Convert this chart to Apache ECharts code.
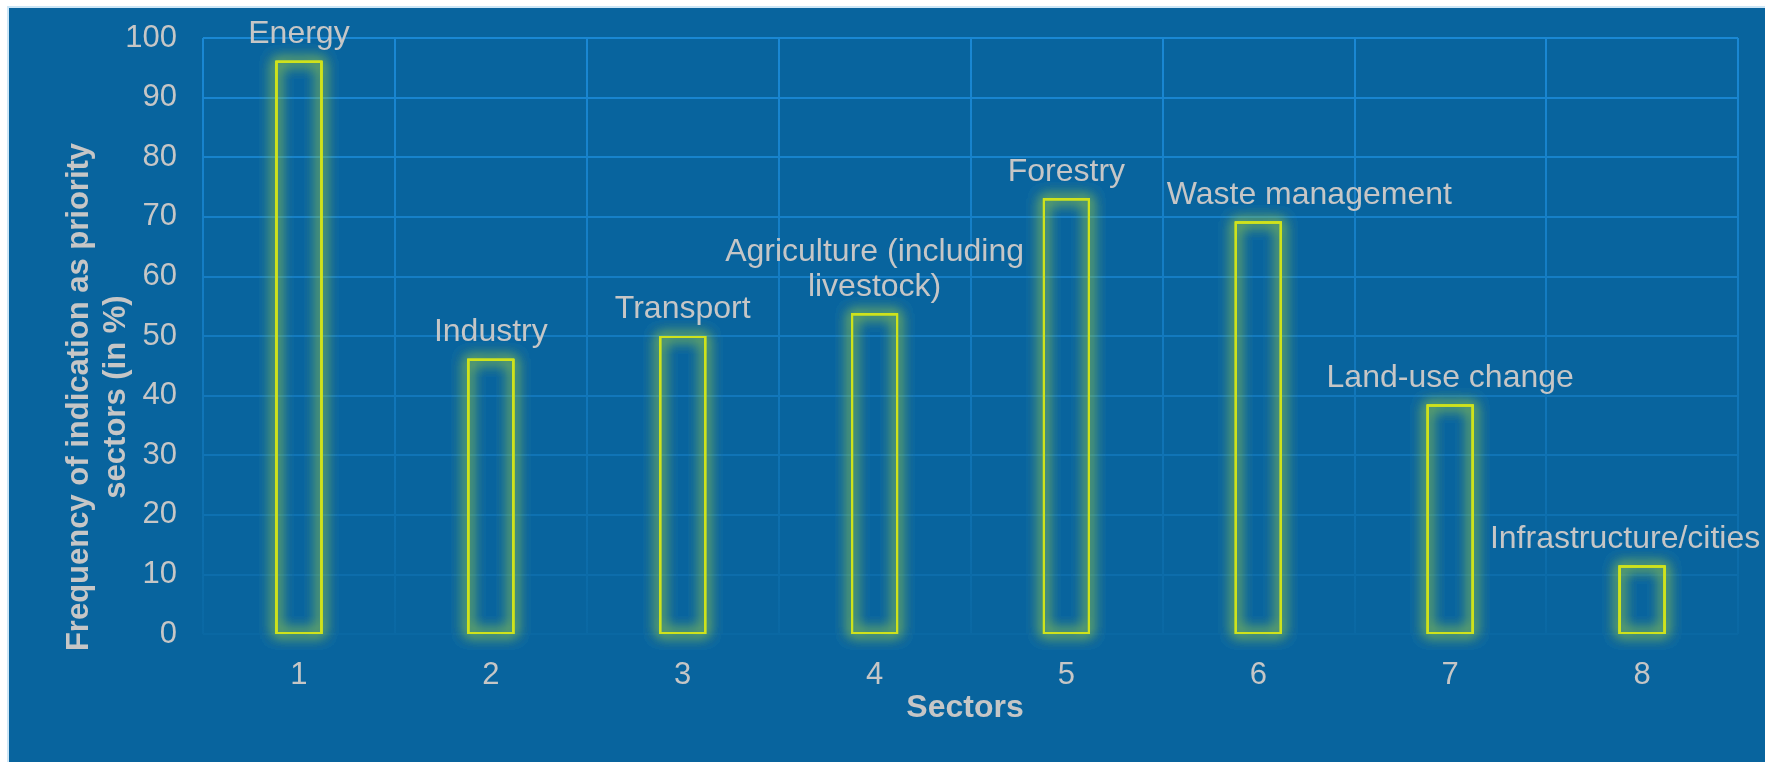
<!DOCTYPE html>
<html>
<head>
<meta charset="utf-8">
<script src="https://cdn.jsdelivr.net/npm/echarts@6/dist/echarts.min.js"></script>
<style>
  html, body { margin: 0; padding: 0; background: #ffffff; }
  #chart { width: 1765px; height: 762px; }
</style>
</head>
<body>
<div id="chart"></div>
<script>
// ---- data ----
const categories = ['1', '2', '3', '4', '5', '6', '7', '8'];
const sectorNames = [
  'Energy',
  'Industry',
  'Transport',
  'Agriculture (including\nlivestock)',
  'Forestry',
  'Waste management',
  'Land-use change',
  'Infrastructure/cities'
];
const frequency = [96.2, 46.2, 50.0, 53.8, 73.1, 69.2, 38.5, 11.5];
const yAxisTitle = 'Frequency of indication as priority\nsectors (in %)';
const xAxisTitle = 'Sectors';

// ---- presentation ----
const labelShiftX = [0, 0, 0, 0, 0, 51, 0, -17];
const textColor = '#c6c6c6';
const font = '"Liberation Sans", Arial, sans-serif';

const chart = echarts.init(document.getElementById('chart'));

// grid lines fade from bright (top) to nearly background (bottom)
const lineTop = [26, 136, 212];
const lineBottom = [10, 104, 163];
function mixColor(t) {
  const c = lineBottom.map((b, k) => Math.round(b + (lineTop[k] - b) * t));
  return 'rgb(' + c.join(',') + ')';
}
const hLineColors = [];
for (let i = 0; i <= 10; i++) hLineColors.push(mixColor(Math.pow(i / 10, 0.8)));

function vGradient() {
  return new echarts.graphic.LinearGradient(0, 0, 0, 1, [
    { offset: 0, color: mixColor(1) },
    { offset: 0.5, color: mixColor(0.57) },
    { offset: 1, color: mixColor(0) }
  ]);
}

const seriesData = frequency.map((v, i) => ({
  value: v,
  label: { offset: [labelShiftX[i], 0] }
}));

const outlineColor = '#cfe21c';

// several identical outlines whose shadows add up to a soft glow
const glowLayers = [];
for (let k = 0; k < 4; k++) {
  glowLayers.push({
    type: 'bar',
    data: frequency,
    barWidth: 47,
    barGap: '-100%',
    silent: true,
    itemStyle: {
      color: 'rgba(0,0,0,0)',
      borderColor: outlineColor,
      borderWidth: 2,
      shadowBlur: 14,
      shadowColor: 'rgba(160,208,62,1)'
    }
  });
}

const option = {
  backgroundColor: '#ffffff',
  animation: false,
  textStyle: { fontFamily: font },
  graphic: [{
    type: 'rect',
    z: -100,
    silent: true,
    shape: { x: 8, y: 7, width: 1760, height: 760 },
    style: { fill: '#08649e', stroke: '#cde6f6', lineWidth: 2 }
  }],
  grid: { left: 203, right: 27, top: 38, bottom: 128, containLabel: false },
  xAxis: {
    type: 'category',
    data: categories,
    boundaryGap: true,
    axisLine: { show: false },
    axisTick: { show: false },
    axisLabel: { color: textColor, fontSize: 31, margin: 26, fontFamily: font },
    splitLine: { show: true, lineStyle: { color: vGradient(), width: 2 } },
    name: xAxisTitle,
    nameLocation: 'middle',
    nameGap: 58,
    nameMoveOverlap: false,
    nameTextStyle: { color: textColor, fontSize: 32, fontWeight: 'bold', fontFamily: font, padding: [0, 11, 0, 0] }
  },
  yAxis: {
    type: 'value',
    min: 0,
    max: 100,
    interval: 10,
    axisLine: { show: false },
    axisTick: { show: false },
    axisLabel: { color: textColor, fontSize: 31, margin: 26, fontFamily: font },
    splitLine: { show: true, lineStyle: { color: hLineColors, width: 2 } },
    name: yAxisTitle,
    nameLocation: 'middle',
    nameGap: 68,
    nameMoveOverlap: false,
    nameTextStyle: { color: textColor, fontSize: 31, fontWeight: 'bold', lineHeight: 37, fontFamily: font, padding: [0, 122, 0, 0] }
  },
  series: glowLayers.concat([{
    type: 'bar',
    data: seriesData,
    barWidth: 47,
    barGap: '-100%',
    itemStyle: {
      color: 'rgba(0,0,0,0)',
      borderColor: outlineColor,
      borderWidth: 2
    },
    label: {
      show: true,
      position: 'top',
      distance: 9,
      color: textColor,
      fontSize: 32,
      lineHeight: 35,
      fontFamily: font,
      formatter: p => sectorNames[p.dataIndex]
    }
  }])
};

chart.setOption(option);
</script>
</body>
</html>
